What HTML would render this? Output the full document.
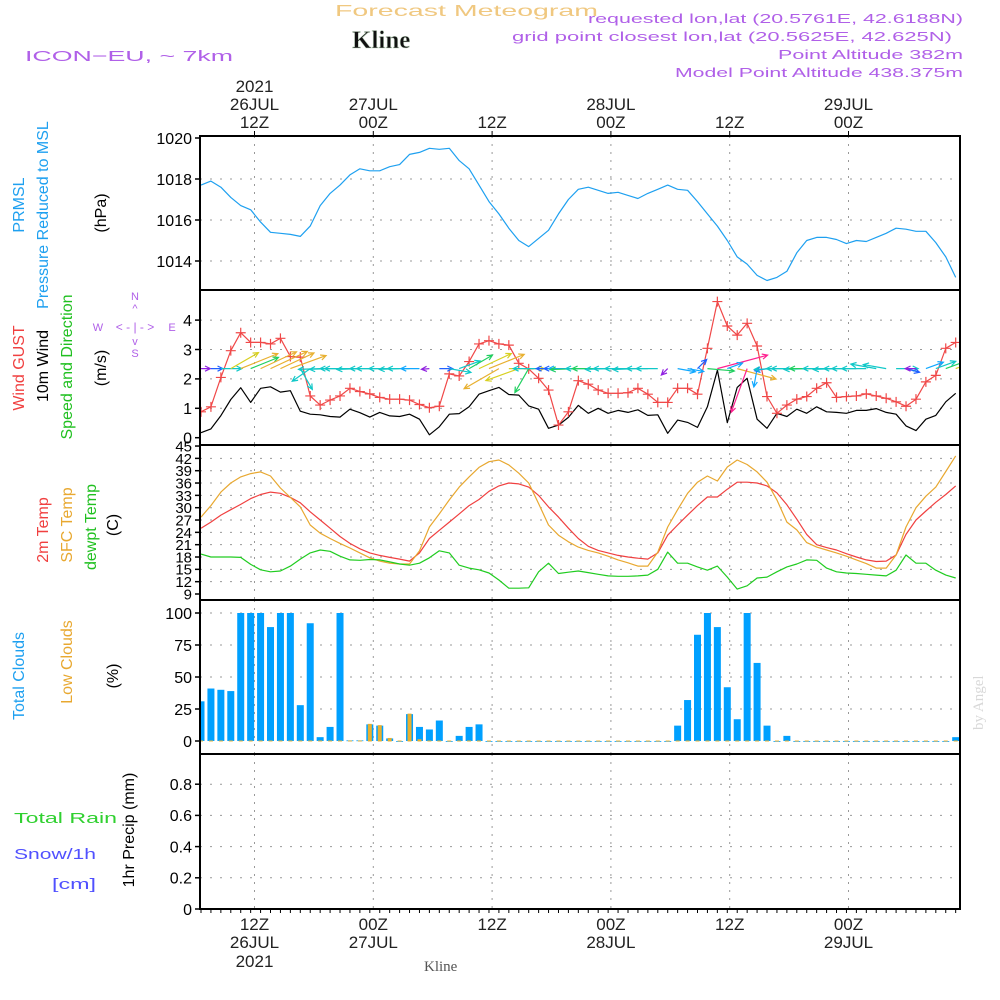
<!DOCTYPE html>
<html><head><meta charset="utf-8"><style>
html,body{margin:0;padding:0;background:#fff;}
svg{display:block;font-family:"Liberation Sans",sans-serif;}
</style></head><body>
<svg id="chart" width="1000" height="1000" viewBox="0 0 1000 1000" xmlns="http://www.w3.org/2000/svg">
<defs><clipPath id="plotclip"><rect x="200" y="136" width="760" height="773"/></clipPath></defs>
<rect width="1000" height="1000" fill="#fff"/>
<text x="335" y="16" font-size="16" fill="#f0c880" textLength="263" lengthAdjust="spacingAndGlyphs">Forecast Meteogram</text>
<text x="352" y="48" font-family="Liberation Serif,serif" font-weight="bold" font-size="25" fill="#111" stroke="#c8dcc8" stroke-width="0.6">Kline</text>
<text x="25" y="61" font-size="15" fill="#b060e8" textLength="208" lengthAdjust="spacingAndGlyphs">ICON−EU, ~ 7km</text>
<g fill="#b060e8" font-size="13" text-anchor="end">
<text x="963" y="23" textLength="375" lengthAdjust="spacingAndGlyphs">requested lon,lat (20.5761E, 42.6188N)</text>
<text x="952" y="41" textLength="440" lengthAdjust="spacingAndGlyphs">grid point closest lon,lat (20.5625E, 42.625N)</text>
<text x="963" y="59" textLength="185" lengthAdjust="spacingAndGlyphs">Point Altitude 382m</text>
<text x="963" y="77" textLength="288" lengthAdjust="spacingAndGlyphs">Model Point Altitude 438.375m</text>
</g>
<g id="grid"></g>
<g id="marks" clip-path="url(#plotclip)"></g>
<g id="frames"></g>
<g id="labels"></g>
<text transform="translate(983,730) rotate(-90)" font-family="Liberation Serif,serif" font-size="15" fill="#d8d8d8">by Angel</text>
<text x="424" y="971" font-family="Liberation Serif,serif" font-size="15" fill="#555">Kline</text>
</svg>
<script>
// ---- data (hourly, index 0 = first forecast step) ----
const pressure = [1017.7,1017.9,1017.6,1017.1,1016.7,1016.5,1015.9,1015.4,1015.35,1015.3,1015.2,1015.7,1016.7,1017.3,1017.7,1018.2,1018.5,1018.4,1018.4,1018.6,1018.7,1019.2,1019.3,1019.5,1019.45,1019.5,1018.9,1018.5,1017.7,1016.9,1016.3,1015.6,1015.0,1014.7,1015.1,1015.5,1016.3,1017.0,1017.5,1017.6,1017.45,1017.3,1017.35,1017.2,1017.05,1017.3,1017.5,1017.7,1017.5,1017.45,1016.9,1016.3,1015.7,1015.0,1014.2,1013.85,1013.3,1013.05,1013.2,1013.5,1014.4,1015.0,1015.15,1015.15,1015.05,1014.85,1015.0,1014.95,1015.15,1015.35,1015.6,1015.55,1015.45,1015.45,1014.9,1014.2,1013.2];
const windSpeed = [0.17,0.3,0.75,1.3,1.7,1.2,1.68,1.73,1.55,1.6,0.9,0.8,0.78,0.72,0.7,0.97,0.85,0.7,0.86,0.74,0.72,0.8,0.63,0.1,0.37,0.8,0.82,1.05,1.48,1.6,1.71,1.47,1.45,1.08,0.97,0.32,0.43,0.69,1.1,0.83,1.0,0.83,0.93,0.86,0.95,0.76,0.78,0.15,0.6,0.52,0.35,1.05,2.3,0.51,1.71,2.02,0.63,0.32,0.83,0.72,0.97,0.83,1.05,0.88,0.86,0.83,0.93,0.93,0.99,0.86,0.8,0.4,0.24,0.63,0.76,1.22,1.51];
const windGust = [0.88,1.05,2.05,2.96,3.57,3.24,3.24,3.19,3.38,2.76,2.74,1.42,1.11,1.28,1.42,1.68,1.57,1.49,1.37,1.31,1.31,1.28,1.13,1.02,1.07,2.17,2.1,2.59,3.19,3.3,3.19,3.15,2.53,2.34,2.02,1.62,0.43,0.88,1.94,1.82,1.62,1.51,1.51,1.53,1.68,1.48,1.2,1.2,1.68,1.68,1.48,3.04,4.63,3.8,3.49,3.89,3.12,1.4,0.83,1.11,1.31,1.4,1.68,1.87,1.37,1.4,1.42,1.49,1.42,1.34,1.22,1.07,1.31,1.9,2.12,3.04,3.24];
const windDir = [0,0,0,30,22,22,25,25,25,20,-60,215,182,182,180,180,182,180,180,180,182,180,180,185,0,-10,20,30,25,22,210,0,200,240,180,180,180,180,182,180,180,182,180,180,182,180,180,225,-10,-10,45,-5,15,20,-15,250,260,190,182,180,180,182,180,180,182,180,180,180,170,170,0,-15,180,20,20,20,20];
const temp2m = [25.0,26.5,28.2,29.5,30.8,32.2,33.2,33.8,33.5,32.5,31.2,29.0,27.0,25.0,23.0,21.3,20.0,19.0,18.4,17.9,17.5,17.0,19.0,22.5,24.5,26.5,28.5,30.5,32.0,34.0,35.3,36.0,35.8,35.0,33.0,30.2,27.7,25.0,22.5,20.6,19.6,19.0,18.4,18.0,17.7,17.5,19.0,23.3,25.8,28.2,30.5,32.6,32.6,34.5,36.2,36.2,36.0,35.3,33.6,30.7,27.2,23.5,21.0,20.3,19.7,18.8,18.0,17.3,16.9,17.0,18.5,23.5,27.0,29.2,31.3,33.2,35.3];
const tempSfc = [27.7,30.5,33.8,36.0,37.5,38.3,38.7,37.7,34.8,32.5,30.2,25.8,23.8,22.5,21.3,20.2,19.0,17.8,17.0,16.5,16.3,16.3,19.5,25.3,28.5,31.9,35.0,37.5,39.8,41.2,41.6,40.4,38.4,36.0,31.0,25.8,23.3,21.7,20.4,19.6,19.0,18.2,17.3,16.6,15.8,15.8,19.2,25.3,29.5,33.5,36.2,37.7,36.5,39.9,41.6,40.5,38.7,36.2,31.9,26.5,24.6,21.5,20.4,19.7,19.0,18.2,17.3,16.4,15.3,15.3,18.5,25.3,30.0,32.8,35.0,38.8,42.6];
const dewpoint = [18.7,18.0,18.0,18.0,17.9,16.2,14.9,14.4,14.6,15.8,17.5,19.0,19.7,19.4,18.2,17.3,17.2,17.4,17.3,16.8,16.3,16.0,16.5,17.8,19.5,19.0,16.0,15.3,14.9,14.1,12.4,10.4,10.4,10.5,14.4,16.5,14.0,14.3,14.6,14.2,13.8,13.4,13.3,13.3,13.4,13.6,15.0,19.2,16.5,16.5,15.6,14.8,15.8,13.1,10.2,11.0,12.9,13.1,14.4,15.6,16.3,17.3,17.2,15.3,14.4,14.1,14.0,13.8,13.6,13.4,14.8,18.5,16.5,16.5,14.8,13.6,12.9];
const totalClouds = [31,41,40,39,100,100,100,89,100,100,28,92,3,11,100,0.5,0.5,13,12,2,0,21,11,9,16,0,4,11,13,0,0,0,0,0,0,0,0,0,0,0,0,0,0,0,0,0,0,0,12,32,83,100,89,42,17,100,61,12,0,4,0,0,0,0,0,0,0,0,0,0,0,0,0,0,0,0,3];
const lowClouds = [0,0,0,0,0,0,0,0,0,0,0,0,0,0,0,0,0,13,12,2,0,21,1,0,0,0,0,0,0,0,0,0,0,0,0,0,0,0,0,0,0,0,0,0,0,0,0,0,0,0,0,0,0,0,0,0,0,0,0,0,0,0,0,0,0,0,0,0,0,0,0,0,0,0,0,0,0];
const precip = new Array(77).fill(0);
const timeTop = [["2021","26JUL","12Z"],["","27JUL","00Z"],["","","12Z"],["","28JUL","00Z"],["","","12Z"],["","29JUL","00Z"]];
const timeBottom = [["12Z","26JUL","2021"],["00Z","27JUL",""],["12Z","",""],["00Z","28JUL",""],["12Z","",""],["00Z","29JUL",""]];
const pTicks = [1014,1016,1018,1020];
const wTicks = [0,1,2,3,4];
const tTicks = [9,12,15,18,21,24,27,30,33,36,39,42,45];
const cTicks = [0,25,50,75,100];
const rTicks = [0,0.2,0.4,0.6,0.8];

// ---- scales ----
const X0=200, X1=960;
const xS = i => 201 + i*9.93;
const xTime = k => 254.5 + k*118.8;
const yP = v => 138 + (1020-v)*20.5;
const yW = v => 437.7 - v*29.4;
const yT = v => 594 - (v-9)*4.11;
const yC = v => 741 - v*1.28;
const yR = v => 909 - v*156;
const panels = [[136,290],[290,445],[445,600],[600,754],[754,909]];

const NS="http://www.w3.org/2000/svg";
function mk(tag, attrs, parent){
  const e=document.createElementNS(NS,tag);
  for(const k in attrs) e.setAttribute(k,attrs[k]);
  parent.appendChild(e); return e;
}
const G=document.getElementById('grid'), M=document.getElementById('marks'), F=document.getElementById('frames'), L=document.getElementById('labels');

for(let k=0;k<timeTop.length;k++){
  for(const [a,b] of panels){
    const l=mk('line',{x1:xTime(k),x2:xTime(k),y1:a,y2:b,stroke:'#999','stroke-dasharray':'2,6'},G);
    
    
  }
}
function hgrid(ticks, yf, name){
  for(const t of ticks){
    const l=mk('line',{x1:X0,x2:X1,y1:yf(t),y2:yf(t),stroke:'#999','stroke-dasharray':'2,8'},G);
    
    
  }
}
hgrid([1014,1016,1018],yP,'pressure');
hgrid([1,2,3,4],yW,'wind');
hgrid(tTicks.slice(1,-1),yT,'temp');
hgrid([25,50,75,100],yC,'cloud');
hgrid([0.2,0.4,0.6,0.8],yR,'precip');

function line(vals, yf, color, name, w){
  const d=vals.map((v,i)=>(i?'L':'M')+xS(i).toFixed(1)+','+yf(v).toFixed(1)).join('');
  const p=mk('path',{d:d,fill:'none',stroke:color,'stroke-width':w||1.2,'stroke-linejoin':'round'},M);
  
  
}
line(pressure,yP,'#1ea0f0','pressure-line');
for(let i=0;i<totalClouds.length;i++){
  const h=totalClouds[i]*1.28;
  const r=mk('rect',{x:xS(i)-3.5,y:yC(totalClouds[i]),width:7,height:Math.max(h,0.8),fill:'#00a0ff'},M);
  
  
  const lh=lowClouds[i]*1.28;
  const r2=mk('rect',{x:xS(i)-2,y:yC(lowClouds[i])-0.5,width:4,height:lh+1,fill:'#e8b030'},M);
  
  
}
for(let i=0;i<precip.length;i++){
  if(precip[i]<=0) continue;
  const r=mk('rect',{x:xS(i)-3.5,y:yR(precip[i]),width:7,height:precip[i]*156,fill:'#20c020'},M);
  
  
}
line(temp2m,yT,'#f04040','temp-2m-line');
line(tempSfc,yT,'#e8a830','temp-sfc-line');
line(dewpoint,yT,'#20cc20','dewpoint-line');
line(windSpeed,yW,'#000','wind-speed-line');
line(windGust,yW,'#f04848','wind-gust-line');
for(let i=0;i<windGust.length;i++){
  const x=xS(i), y=yW(windGust[i]);
  const m=mk('path',{d:`M${x-5},${y}H${x+5}M${x},${y-5}V${y+5}`,stroke:'#f04848','stroke-width':1.2},M);
  
  
}
function wcol(v){
  if(v<0.3) return '#9020e0';
  if(v<0.5) return '#2060ff';
  if(v<0.7) return '#10a8ff';
  if(v<1.0) return '#10c8c8';
  if(v<1.3) return '#20d060';
  if(v<1.55) return '#d8d020';
  if(v<1.9) return '#e8b030';
  return '#ff2090';
}
const yBase=yW(2.35);
for(let i=0;i<windSpeed.length;i++){
  const a=windDir[i]*Math.PI/180, len=6+windSpeed[i]*20;
  const x=xS(i), ex=x+Math.cos(a)*len, ey=yBase-Math.sin(a)*len;
  const h1=a+Math.PI-0.45, h2=a+Math.PI+0.45, hl=6;
  const d=`M${x},${yBase}L${ex},${ey}M${ex+Math.cos(h1)*hl},${ey-Math.sin(h1)*hl}L${ex},${ey}L${ex+Math.cos(h2)*hl},${ey-Math.sin(h2)*hl}`;
  const p=mk('path',{d:d,fill:'none',stroke:wcol(windSpeed[i]),'stroke-width':1.2},M);
  
  
}

for(const [a,b] of panels){
  const r=mk('rect',{x:X0,y:a,width:X1-X0,height:b-a,fill:'none',stroke:'#000','stroke-width':2},F);
  
  
}
for(let i=0;i<77;i++){
  const t=mk('line',{x1:xS(i),x2:xS(i),y1:909,y2:913,stroke:'#000'},F);
  
  
}
function txt(s,x,y,opts,name){
  const t=mk('text',Object.assign({x:x,y:y,'font-size':16,fill:'#000'},opts||{}),L);
  t.textContent=s;
  
  
  return t;
}
function yticks(ticks,yf,name,fs){
  for(const t of ticks){
    const y=yf(t);
    const tk=mk('line',{x1:X0-5,x2:X0,y1:y,y2:y,stroke:'#000','stroke-width':1.5},F);
    
    
    txt(String(t),X0-8,y+(fs||16)*0.36,{'text-anchor':'end','font-size':fs||16},name+'-tick-label');
  }
}
yticks(pTicks,yP,'pressure');
yticks(wTicks,yW,'wind');
yticks(tTicks,yT,'temp',15);
yticks(cTicks,yC,'cloud');
yticks(rTicks,yR,'precip');
const topY=[92,110,128], botY=[930,948,967];
for(let k=0;k<timeTop.length;k++){
  const x=xTime(k);
  const tk=mk('line',{x1:x,x2:x,y1:131,y2:136,stroke:'#000'},F);
  
  
  timeTop[k].forEach((s,j)=>{ if(s) txt(s,x,topY[j],{'text-anchor':'middle','font-size':17,fill:'#222'},'top-time-label'); });
  timeBottom[k].forEach((s,j)=>{ if(s) txt(s,x,botY[j],{'text-anchor':'middle','font-size':17,fill:'#222'},'bottom-time-label'); });
}
function rot(s,cx,cy,color,name,fs){
  const t=mk('text',{x:0,y:0,transform:`translate(${cx},${cy}) rotate(-90)`,'text-anchor':'middle','font-size':fs||16,fill:color},L);
  t.textContent=s;
  
  
}
rot('PRMSL',24,205,'#1ea0f0','prmsl-title');
rot('Pressure Reduced to MSL',48,215,'#1ea0f0','pressure-title');
rot('(hPa)',106,213,'#000','pressure-unit');
rot('Wind GUST',24,368,'#f04040','gust-title');
rot('10m Wind',48,366,'#000','wind-title');
rot('Speed and Direction',72,367,'#20c020','wind-dir-title');
rot('(m/s)',106,368,'#000','wind-unit');
rot('2m Temp',48,530,'#f04040','temp2m-title');
rot('SFC Temp',72,525,'#e8a830','sfc-temp-title');
rot('dewpt Temp',96,527,'#20c020','dewpoint-title');
rot('(C)',118,525,'#000','temp-unit');
rot('Total Clouds',24,676,'#1ea0f0','total-clouds-title');
rot('Low Clouds',72,662,'#e8a830','low-clouds-title');
rot('(%)',118,676,'#000','cloud-unit');
rot('1hr Precip (mm)',134,830,'#000','precip-title');
txt('Total  Rain',14,823,{fill:'#30d030','font-size':15,textLength:103,lengthAdjust:'spacingAndGlyphs'},'rain-legend');
txt('Snow/1h',14,859,{fill:'#5050ff','font-size':15,textLength:82,lengthAdjust:'spacingAndGlyphs'},'snow-legend');
txt('[cm]',52,889,{fill:'#5050ff','font-size':15,textLength:44,lengthAdjust:'spacingAndGlyphs'},'snow-unit');
const cp='#b060e8';
txt('N',135,300,{'font-size':11,fill:cp,'text-anchor':'middle'},'compass-n');
txt('^',135,312,{'font-size':11,fill:cp,'text-anchor':'middle'},'compass-arrow-n');
txt('W',98,331,{'font-size':11,fill:cp,'text-anchor':'middle'},'compass-w');
txt('< - | - >',135,331,{'font-size':12,fill:cp,'text-anchor':'middle'},'compass-cross');
txt('E',172,331,{'font-size':11,fill:cp,'text-anchor':'middle'},'compass-e');
txt('v',135,345,{'font-size':11,fill:cp,'text-anchor':'middle'},'compass-arrow-s');
txt('S',135,357,{'font-size':11,fill:cp,'text-anchor':'middle'},'compass-s');
</script>
</body></html>
